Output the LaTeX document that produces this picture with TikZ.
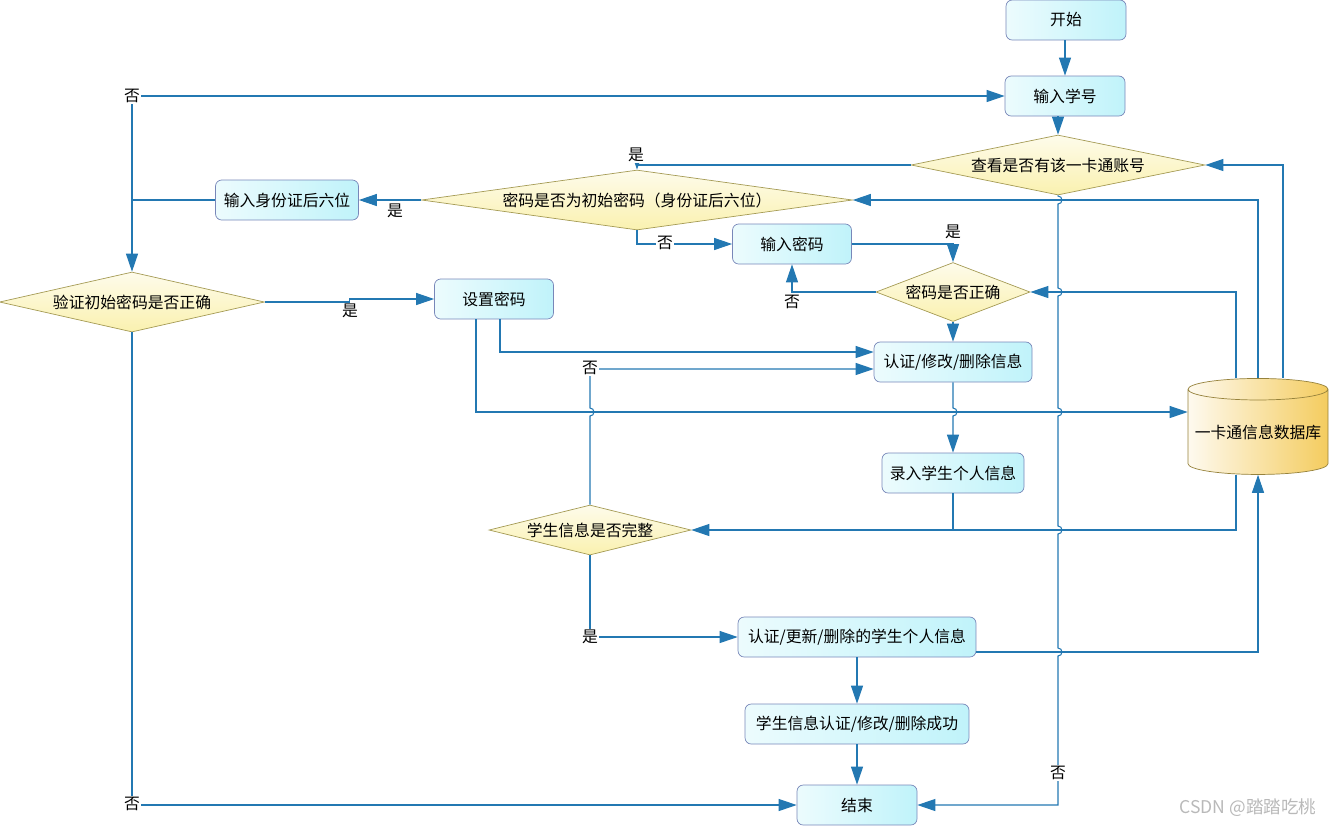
\documentclass[tikz,border=0pt]{standalone}
\usepackage{fontspec}
\newfontfamily\cjk{Noto Sans CJK SC}
\usepackage{tikz}
\usetikzlibrary{arrows.meta, shapes.geometric}

\definecolor{lineblue}{RGB}{35,120,178}
\definecolor{boxedge}{RGB}{120,135,185}
\definecolor{boxcyan}{RGB}{192,243,250}
\definecolor{decedge}{RGB}{165,155,85}
\definecolor{decyellow}{RGB}{250,241,175}
\definecolor{dbedge}{RGB}{150,130,60}
\definecolor{dbgold}{RGB}{244,204,95}

\tikzset{
  txt/.style={font=\cjk\fontsize{9}{11}\selectfont},
  box/.style={txt, draw=boxedge, rounded corners=3.5pt, left color=white!70!boxcyan, right color=boxcyan, minimum height=0.8cm, inner sep=0pt},
  dec/.style={txt, diamond, draw=decedge, top color=white!75!decyellow, bottom color=decyellow, minimum height=1.2cm, inner sep=0pt},
  store/.style={txt, cylinder, shape border rotate=90, aspect=0.17, draw=dbedge, left color=white!90!dbgold, right color=dbgold, minimum width=2.8cm, minimum height=1.92cm, inner sep=0pt},
  wire/.style={draw=lineblue, line width=0.6pt},
  flow/.style={wire, -{Triangle[length=0.36cm, width=0.24cm]}},
  lab/.style={txt, fill=white, inner sep=0.6pt},
}

\begin{document}
\begin{tikzpicture}[x=0.02cm, y=-0.02cm]
  \useasboundingbox (0,0) rectangle (1331,826);
  % boxes and decisions
  \node[box, minimum width=2.4cm] (start) at (1066,20) {开始};
  \node[box, minimum width=2.4cm] (stuno) at (1065,96) {输入学号};
  \node[dec, minimum width=5.88cm, aspect=4.9] (chk) at (1058,165) {查看是否有该一卡通账号};
  \node[dec, minimum width=8.62cm, aspect=7.2] (init) at (637,200) {密码是否为初始密码（身份证后六位）};
  \node[box, minimum width=2.86cm] (idsix) at (287,200) {输入身份证后六位};
  \node[box, minimum width=2.38cm] (pwd) at (792,244) {输入密码};
  \node[dec, minimum width=3.08cm, minimum height=1.18cm, aspect=2.6] (ok) at (953,292) {密码是否正确};
  \node[dec, minimum width=5.3cm, aspect=4.4] (verify) at (132,302) {验证初始密码是否正确};
  \node[box, minimum width=2.38cm] (setpwd) at (494,299) {设置密码};
  \node[box, minimum width=3.16cm] (edit) at (953,362) {认证/修改/删除信息};
  \node[store] (db) at (1258,432) {一卡通信息数据库};
  \node[box, minimum width=2.84cm] (enter) at (953,473) {录入学生个人信息};
  \node[dec, minimum width=4.04cm, minimum height=1cm, aspect=4] (full) at (590,530) {学生信息是否完整};
  \node[box, minimum width=4.76cm] (upd) at (857,637) {认证/更新/删除的学生个人信息};
  \node[box, minimum width=4.48cm] (done) at (857,724) {学生信息认证/修改/删除成功};
  \node[box, minimum width=2.4cm] (stop) at (857,805) {结束};
  \coordinate (nofork) at (132,96);

  % connectors
  \draw[flow] (start.south -| stuno.north) -- (stuno.north);
  \draw[flow] (stuno.south -| chk.north) -- (chk.north);
  \draw[flow] (chk.west) -| (init.north);
  \draw[flow] (chk.south) -- (1058,196) arc[start angle=90, end angle=-90, radius=0.08cm]
    -- (1058,288) arc[start angle=90, end angle=-90, radius=0.08cm]
    -- (1058,408) arc[start angle=90, end angle=-90, radius=0.08cm]
    -- (1058,526) arc[start angle=90, end angle=-90, radius=0.08cm]
    -- (1058,648) arc[start angle=90, end angle=-90, radius=0.08cm]
    |- (stop.east);
  \draw[flow] ([xshift=0.5cm]db.north) |- (chk.east);
  \draw[flow] (db.north) |- (init.east);
  \draw[flow] ([xshift=-0.44cm]db.north) |- (ok.east);
  \draw[flow] (init.west) -- (idsix.east);
  \draw[flow] (init.south) |- (pwd.west);
  \draw[flow] (pwd.east) -| (ok.north);
  \draw[flow] (ok.west) -| (pwd.south);
  \draw[flow] (ok.south) -- (edit.north);
  \draw[wire] (idsix.west) -- (idsix.west -| verify.north);
  \draw[flow] (nofork) -- (nofork -| stuno.west);
  \draw[flow] (nofork) -- (verify.north);
  \draw[flow] (verify.east) -- ++(85,0) |- (setpwd.west);
  \draw[flow] (verify.south) |- (stop.west);
  \draw[flow] ([xshift=0.12cm]setpwd.south) |- ([yshift=0.2cm]edit.west);
  \draw[flow] ([xshift=-0.36cm]setpwd.south) |- ([yshift=0.4cm]db.west);
  \draw[flow] (full.north) -- (590,416) arc[start angle=-90, end angle=90, radius=0.08cm]
    |- ([yshift=-0.14cm]edit.west);
  \draw[flow] (edit.south) -- (953,408) arc[start angle=90, end angle=-90, radius=0.08cm]
    -- (enter.north);
  \draw[wire] (enter.south) -- (enter.south |- full.east);
  \draw[flow] ([xshift=-0.44cm]db.south) |- (full.east);
  \draw[flow] ([yshift=-0.3cm]upd.east) -| (db.south);
  \draw[flow] (full.south) |- (upd.west);
  \draw[flow] (upd.south) -- (done.north);
  \draw[flow] (done.south) -- (stop.north);

  % yes / no labels
  \node[lab] (y1) at (636,155) {是};
  \node[lab] (y2) at (395,211) {是};
  \node[lab] (y3) at (953,232) {是};
  \node[lab] (y4) at (350,311) {是};
  \node[lab] (y5) at (590,637) {是};
  \node[lab] (n1) at (nofork) {否};
  \node[lab] (n2) at (665,243) {否};
  \node[lab] (n3) at (792,302) {否};
  \node[lab] (n4) at (590,368) {否};
  \node[lab] (n5) at (1058,773) {否};
  \node[lab] (n6) at (132,804) {否};
  \node[txt, text=gray!55, font=\cjk\fontsize{10}{12}\selectfont] (mark) at (1248,808) {CSDN @踏踏吃桃};
\end{tikzpicture}
\end{document}
